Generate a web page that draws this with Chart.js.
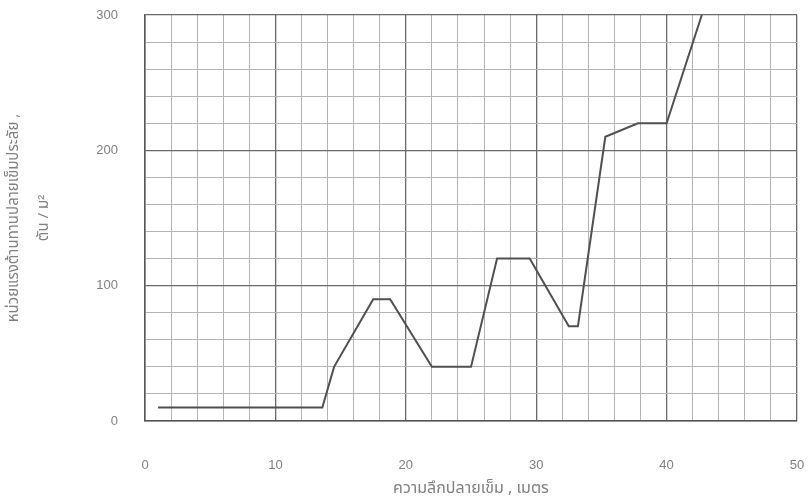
<!DOCTYPE html>
<html lang="th">
<head>
<meta charset="utf-8">
<script src="https://cdn.jsdelivr.net/npm/chart.js@4/dist/chart.umd.min.js"></script>
<style>
  html, body { margin: 0; padding: 0; background: #fff; }
  #wrap { width: 809px; height: 502px; position: relative; }
</style>
</head>
<body>
<div id="wrap"><canvas id="c" width="809" height="502"></canvas></div>
<script>
// Pile tip depth (m) and ultimate end-bearing capacity (t/m²)
const depths = [1, 13.6, 14.5, 17.5, 18.8, 22, 25, 27, 29.5, 32.5, 33.2, 35.3, 37.8, 40, 42.7];
const bearing = [10, 10, 40, 90, 90, 40, 40, 120, 120, 70, 70, 210, 220, 220, 300];

const xTickLabels = [0, 10, 20, 30, 40, 50];
const yTickLabels = [0, 100, 200, 300];

const xTitle = 'ความลึกปลายเข็ม , เมตร';
const yTitle = ['หน่วยแรงต้านทานปลายเข็มประลัย ,', 'ตัน / ม²'];

const textColor = '#808080';
const tickFont = { family: '"Liberation Sans", Arial, sans-serif', size: 13 };

// Heavier lines every 10 m / 100 t/m², light lines at the minor steps
function gridColor(major) {
  return ctx => major.includes(ctx.tick && ctx.tick.value) ? '#6a6a6a' : '#b4b4b4';
}
function gridWidth(major) {
  return ctx => major.includes(ctx.tick && ctx.tick.value) ? 1.3 : 1;
}

new Chart(document.getElementById('c'), {
  type: 'line',
  data: {
    datasets: [{
      data: depths.map((d, i) => ({ x: d, y: bearing[i] })),
      borderColor: '#505050',
      borderWidth: 2,
      pointRadius: 0,
      tension: 0,
      fill: false
    }]
  },
  options: {
    responsive: false,
    animation: false,
    layout: { padding: { left: 0, right: 12, top: 15, bottom: 0 } },
    plugins: { legend: { display: false }, tooltip: { enabled: false } },
    scales: {
      x: {
        type: 'linear',
        min: 0, max: 50,
        afterFit: s => { s.height = 81; s.paddingLeft = 0; s.paddingRight = 0; },
        ticks: {
          stepSize: 2,
          autoSkip: false,
          maxRotation: 0,
          padding: 37,
          color: textColor,
          font: tickFont,
          callback: v => xTickLabels.includes(v) ? String(v) : ''
        },
        grid: { color: gridColor(xTickLabels), lineWidth: gridWidth(xTickLabels), drawTicks: false },
        border: { color: '#555', width: 1.5 },
        title: {
          display: true,
          text: xTitle,
          color: textColor,
          font: { family: '"Noto Sans Thai", "Liberation Sans", sans-serif', size: 16 },
          padding: { top: 0, bottom: 3 }
        }
      },
      y: {
        type: 'linear',
        min: 0, max: 300,
        afterFit: s => { s.width = 145; s.paddingTop = 0; s.paddingBottom = 0; },
        ticks: {
          stepSize: 20,
          autoSkip: false,
          padding: 27,
          color: textColor,
          font: tickFont,
          callback: v => yTickLabels.includes(v) ? String(v) : ''
        },
        grid: { color: gridColor(yTickLabels), lineWidth: gridWidth(yTickLabels), drawTicks: false },
        border: { color: '#555', width: 1.5 },
        title: {
          display: true,
          text: yTitle,
          color: textColor,
          font: { family: '"Noto Sans Thai", "Liberation Sans", sans-serif', size: 15, lineHeight: 2.0 },
          padding: { top: 0, bottom: 0 }
        }
      }
    }
  }
});
</script>
</body>
</html>
